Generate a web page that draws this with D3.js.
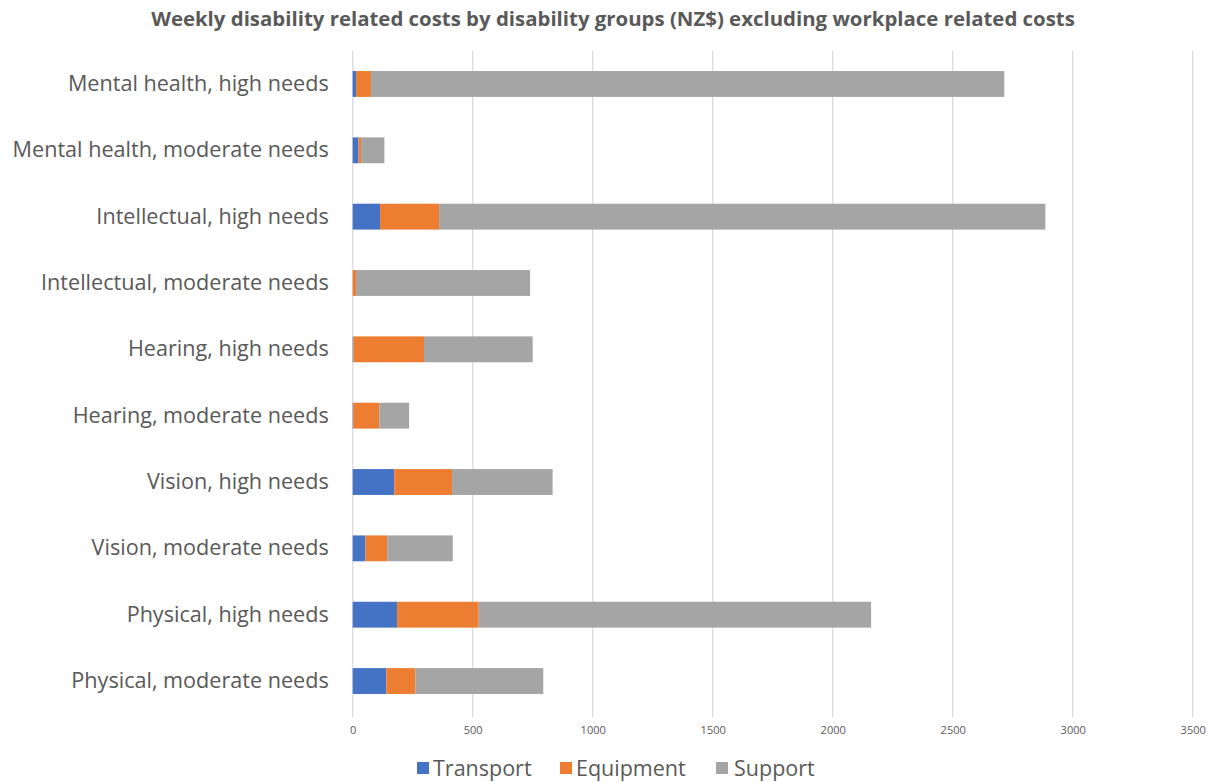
<!DOCTYPE html>
<html>
<head>
<meta charset="utf-8">
<script src="https://cdn.jsdelivr.net/npm/d3@7"></script>
<style>
  html, body { margin: 0; padding: 0; background: #fff; }
  svg { display: block; }
  text { font-family: "Open Sans", "Noto Sans", sans-serif; fill: #595959; }
</style>
</head>
<body>
<svg id="chart" width="1212" height="782"></svg>
<script>
// Categories, top to bottom
const categories = [
  "Mental health, high needs",
  "Mental health, moderate needs",
  "Intellectual, high needs",
  "Intellectual, moderate needs",
  "Hearing, high needs",
  "Hearing, moderate needs",
  "Vision, high needs",
  "Vision, moderate needs",
  "Physical, high needs",
  "Physical, moderate needs"
];

// Weekly costs (NZ$) per category, one array per cost type
const transport = [14, 24, 114, 0, 3, 2, 173, 53, 185, 140];
const equipment = [62, 11, 246, 14, 294, 109, 241, 91, 340, 121];
const support   = [2639, 97, 2526, 725, 453, 124, 419, 273, 1635, 533];

const seriesNames = ["Transport", "Equipment", "Support"];
const seriesColors = ["#4472C4", "#ED7D31", "#A5A5A5"];
const xTicks = [0, 500, 1000, 1500, 2000, 2500, 3000, 3500];

const titleText = "Weekly disability related costs by disability groups (NZ$) excluding workplace related costs";

const svg = d3.select("#chart");

const plot = { left: 352.7, right: 1192.7, top: 50.8, bottom: 714.2 };

const x = d3.scaleLinear().domain([0, 3500]).range([plot.left, plot.right]);
const y = d3.scaleBand().domain(categories).range([plot.top, plot.bottom]).paddingInner(0.61).paddingOuter(0.305);

// Title
svg.append("text")
  .attr("x", 613).attr("y", 26)
  .attr("text-anchor", "middle")
  .style("font-size", "20.4px")
  .style("font-weight", "bold")
  .text(titleText);

// Vertical gridlines
svg.append("g")
  .selectAll("line")
  .data(xTicks)
  .join("line")
  .attr("x1", d => x(d)).attr("x2", d => x(d))
  .attr("y1", plot.top).attr("y2", plot.bottom + 3)
  .attr("stroke", "#D9D9D9")
  .attr("stroke-width", 1.2);

// X axis tick labels
const xAxis = d3.axisBottom(x).tickValues(xTicks).tickFormat(d3.format("d")).tickSize(0).tickPadding(0);
const gx = svg.append("g")
  .attr("transform", `translate(0,${plot.bottom + 12})`)
  .call(xAxis);
gx.select(".domain").remove();
gx.selectAll("text")
  .style("font-size", "11px")
  .style("fill", "#595959")
  .attr("dy", "0.71em");

// Category labels
const yAxis = d3.axisLeft(y).tickSize(0).tickPadding(0);
const gy = svg.append("g")
  .attr("transform", `translate(${plot.left - 24},0)`)
  .call(yAxis);
gy.select(".domain").remove();
gy.selectAll("text")
  .style("font-size", "21.6px")
  .style("fill", "#595959");

// Stacked bars
const rows = categories.map((c, i) => ({
  category: c,
  Transport: transport[i],
  Equipment: equipment[i],
  Support: support[i]
}));
const stacked = d3.stack().keys(seriesNames)(rows);

svg.append("g")
  .selectAll("g")
  .data(stacked)
  .join("g")
  .attr("fill", (d, i) => seriesColors[i])
  .selectAll("rect")
  .data(d => d)
  .join("rect")
  .attr("x", d => x(d[0]))
  .attr("width", d => x(d[1]) - x(d[0]))
  .attr("y", d => y(d.data.category))
  .attr("height", y.bandwidth());

// Legend
const legendItems = [
  { name: "Transport", sx: 417, tx: 433 },
  { name: "Equipment", sx: 560, tx: 576 },
  { name: "Support", sx: 716, tx: 734 }
];
const lg = svg.append("g");
legendItems.forEach((it, i) => {
  lg.append("rect")
    .attr("x", it.sx).attr("y", 762)
    .attr("width", 12).attr("height", 12)
    .attr("fill", seriesColors[i]);
  lg.append("text")
    .attr("x", it.tx).attr("y", 776)
    .style("font-size", "21.5px")
    .text(it.name);
});
</script>
</body>
</html>
